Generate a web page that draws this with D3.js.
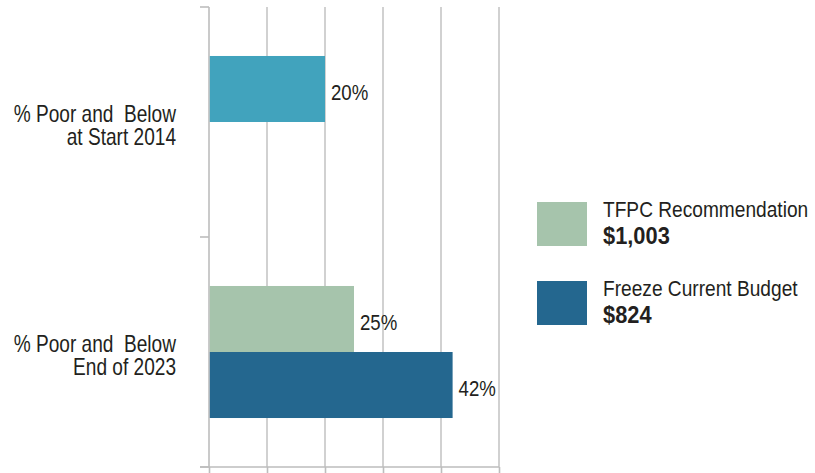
<!DOCTYPE html>
<html>
<head>
<meta charset="utf-8">
<script src="https://cdn.jsdelivr.net/npm/d3@7"></script>
<style>
  body { margin: 0; background: #fff; }
  svg text { font-family: "Liberation Sans", Arial, sans-serif; fill: #231f20; }
</style>
</head>
<body>
<div id="chart"></div>
<script>
// chart data
let categories = [
    ["% Poor and  Below", "at Start 2014"],
    ["% Poor and  Below", "End of 2023"]
];
let seriesNames = ["TFPC Recommendation", "Freeze Current Budget"];
let seriesAmounts = ["$1,003", "$824"];
let tfpcValues = [20, 25];
let freezeValues = [null, 42];
let xTicks = [0, 10, 20, 30, 40, 50];

// colours: first bar (start 2014) has its own colour
let seriesColors = ["#a6c4ac", "#24678f"];
let startColor = "#41a3bd";

let width = 815, height = 473;

let svg = d3.select("#chart")
    .append("svg")
    .attr("width", width)
    .attr("height", height);

// text squeezed horizontally (condensed look), anchored at (px, py)
function addText(parent, px, py, f, size) {
    return parent.append("text")
        .attr("transform", "translate(" + px + "," + py + ") scale(" + f + ",1)")
        .attr("font-size", size);
}

// scales
let x = d3.scaleLinear()
    .domain([0, 50])
    .range([209, 499]);

let y = d3.scaleBand()
    .domain(d3.range(categories.length))
    .range([7, 467])
    .padding(0);

let ySub = d3.scaleBand()
    .domain([0, 1])
    .range([0, y.bandwidth()])
    .paddingInner(0)
    .paddingOuter(0.742);

// gridlines
svg.append("g")
    .selectAll("line")
    .data(xTicks.slice(1))
    .enter()
    .append("line")
    .attr("x1", d => x(d))
    .attr("x2", d => x(d))
    .attr("y1", 7)
    .attr("y2", 467)
    .attr("stroke", "#c6c6c6")
    .attr("stroke-width", 1.6);

// bottom axis
let xAxis = d3.axisBottom(x)
    .tickValues(xTicks)
    .tickSize(6)
    .tickSizeOuter(0)
    .tickFormat("");

let gx = svg.append("g")
    .attr("transform", "translate(0, 467)")
    .call(xAxis);
gx.select(".domain").remove();
gx.selectAll("line").attr("stroke", "#bdbdbd").attr("stroke-width", 1.6);
gx.append("line")
    .attr("x1", 200).attr("x2", x(50))
    .attr("stroke", "#bdbdbd").attr("stroke-width", 1.6);

// left axis with boundary ticks
let yBounds = [7, 7 + y.bandwidth(), 467];
let gy = svg.append("g");
gy.append("line")
    .attr("x1", x(0)).attr("x2", x(0))
    .attr("y1", 7).attr("y2", 467)
    .attr("stroke", "#bdbdbd").attr("stroke-width", 1.6);
gy.selectAll(".ytick")
    .data(yBounds)
    .enter()
    .append("line")
    .attr("class", "ytick")
    .attr("x1", 200).attr("x2", x(0))
    .attr("y1", d => d).attr("y2", d => d)
    .attr("stroke", "#bdbdbd").attr("stroke-width", 1.6);

// bars
let bars = [];
categories.forEach((c, i) => {
    [tfpcValues, freezeValues].forEach((vals, s) => {
        if (vals[i] != null) {
            bars.push({cat: i, s: s, value: vals[i],
                color: (i === 0 && s === 0) ? startColor : seriesColors[s]});
        }
    });
});

svg.selectAll("rect.bar")
    .data(bars)
    .enter()
    .append("rect")
    .attr("class", "bar")
    .attr("x", x(0) + 0.8)
    .attr("y", d => y(d.cat) + ySub(d.s))
    .attr("width", d => x(d.value) - x(0) - 0.8)
    .attr("height", ySub.bandwidth())
    .attr("fill", d => d.color);

// value labels
bars.forEach(d => {
    addText(svg, x(d.value) + 6, y(d.cat) + ySub(d.s) + ySub.bandwidth() / 2 + 11, 0.81, 23)
        .text(d.value + "%");
});

// category labels
categories.forEach((lines, i) => {
    lines.forEach((l, k) => {
        addText(svg, 176, y(i) + y.bandwidth() / 2 + k * 23, 0.83, 23)
            .attr("text-anchor", "end")
            .attr("xml:space", "preserve")
            .text(l);
    });
});

// legend
let legend = svg.append("g");
seriesNames.forEach((name, i) => {
    let ly = 202 + i * 79;
    legend.append("rect")
        .attr("x", 537)
        .attr("y", ly)
        .attr("width", 50)
        .attr("height", 44)
        .attr("fill", seriesColors[i]);
    addText(legend, 603, ly + 15, 0.87, 22).text(name);
    addText(legend, 603, ly + 42, 0.95, 23)
        .attr("font-weight", "bold")
        .text(seriesAmounts[i]);
});
</script>
</body>
</html>
